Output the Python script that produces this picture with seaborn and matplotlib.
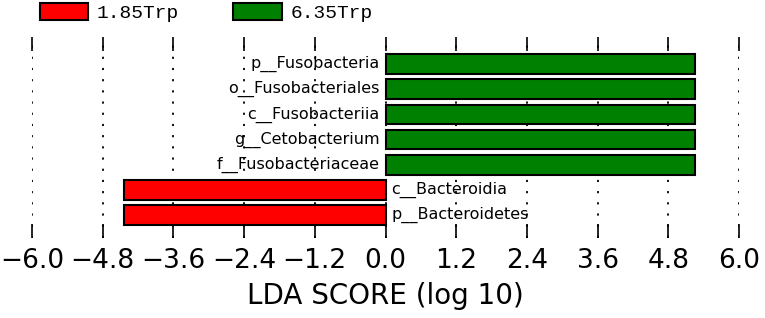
import matplotlib
matplotlib.use('Agg')
import matplotlib.pyplot as plt
import seaborn as sns
import pandas as pd
from matplotlib.patches import Patch

# datos del LEfSe
taxones = ['p__Fusobacteria', 'o__Fusobacteriales', 'c__Fusobacteriia',
           'g__Cetobacterium', 'f__Fusobacteriaceae', 'c__Bacteroidia',
           'p__Bacteroidetes']
lda = [5.26, 5.26, 5.25, 5.25, 5.25, -4.44, -4.44]
grupos = ['6.35Trp', '6.35Trp', '6.35Trp', '6.35Trp', '6.35Trp', '1.85Trp', '1.85Trp']
clases = ['1.85Trp', '6.35Trp']
colores = {'1.85Trp': '#ff0000', '6.35Trp': '#008000'}
ticks_x = [-6.0, -4.8, -3.6, -2.4, -1.2, 0.0, 1.2, 2.4, 3.6, 4.8, 6.0]

df = pd.DataFrame({'taxon': taxones, 'lda': lda, 'grupo': grupos})

sns.set_style('white', {'text.color': 'black', 'axes.labelcolor': 'black',
                        'xtick.color': 'black'})
fig = plt.figure(figsize=(7.65, 3.18), dpi=100)
ax = fig.add_axes([32 / 765, 1 - 238 / 318, 707 / 765, 201 / 318])

sns.barplot(data=df, x='lda', y='taxon', hue='grupo', palette=colores,
            order=taxones, hue_order=clases, dodge=False, width=0.78,
            saturation=1, edgecolor='black', linewidth=1.5, legend=False,
            ax=ax, zorder=2)

# etiquetas junto al cero
for i, (t, v) in enumerate(zip(taxones, lda)):
    if v > 0:
        ax.text(-0.1, i, t, ha='right', va='center', fontsize=11.5,
                color='black', zorder=3)
    else:
        ax.text(0.1, i, t, ha='left', va='center', fontsize=11.5,
                color='black', zorder=3)

ax.set_xlim(-6.0, 6.0)
ax.set_ylim(6.9, -1.07)
ax.set_xticks(ticks_x)
ax.set_xticklabels([f'{t:.1f}'.replace('-', '\u2212') for t in ticks_x],
                   fontsize=19, color='black')
ax.set_yticks([])
ax.set_ylabel('')
ax.set_xlabel('LDA SCORE (log 10)', fontsize=20, labelpad=6, color='black')
ax.tick_params(axis='x', direction='in', length=10, width=1.2, top=True,
               bottom=True, pad=7, color='black')
ax.xaxis.grid(True, linestyle=(0, (1.2, 5)), color='black', linewidth=1.3, zorder=0)
ax.set_axisbelow(True)
for s in ax.spines.values():
    s.set_visible(False)

handles = [Patch(facecolor=colores[c], edgecolor='black', linewidth=1.5) for c in clases]
fig.legend(handles, clases, loc='upper left', bbox_to_anchor=(40 / 765, 1 - 3 / 318),
           ncol=2, frameon=False, borderpad=0, borderaxespad=0,
           handlelength=2.47, handleheight=0.95, handletextpad=0.45, columnspacing=2.8,
           prop={'family': 'Liberation Mono', 'size': 14})

fig.savefig('out.png', dpi=100)
